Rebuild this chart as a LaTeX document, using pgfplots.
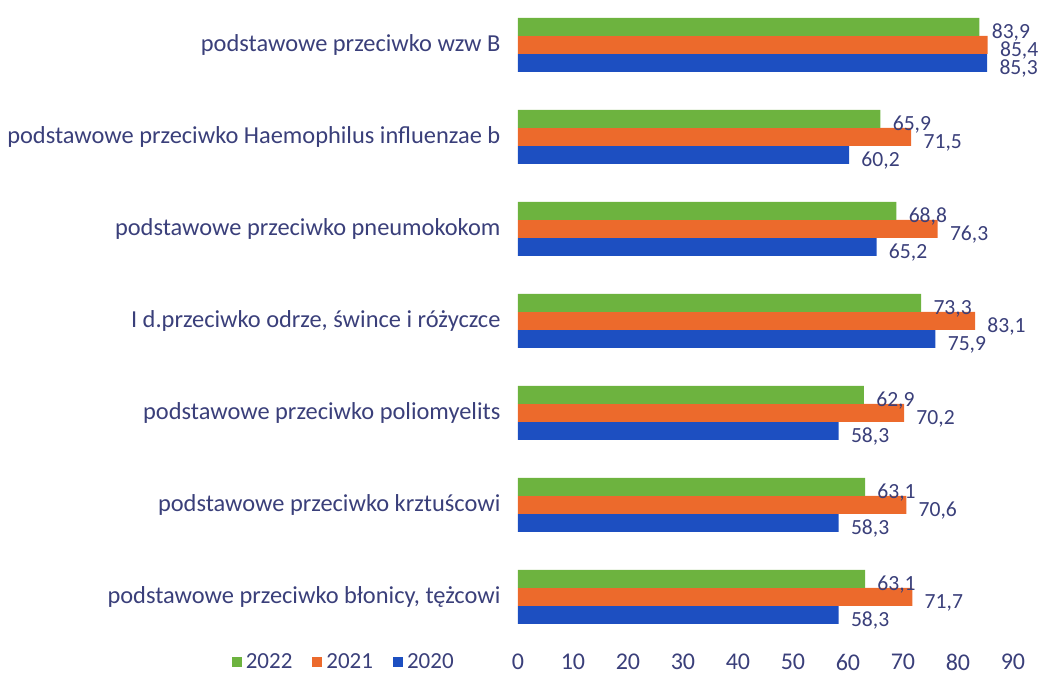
\documentclass[border=0pt]{standalone}
\usepackage{pgfplots}
\pgfplotsset{compat=1.18}
\usepackage{fontspec}
\setmainfont{Carlito}
\definecolor{cgreen}{HTML}{6DB33F}
\definecolor{corange}{HTML}{EC6A2C}
\definecolor{cblue}{HTML}{1D4FC1}
\definecolor{navy}{HTML}{3A3F7A}
\begin{document}
\begin{tikzpicture}
\begin{axis}[
  at={(0,0)}, anchor=south west,
  scale only axis, width=247.5pt, height=322pt,
  xbar=0pt, bar width=9pt,
  xmin=0, xmax=90, ymin=-0.5, ymax=6.5,
  axis line style={draw=none}, tick style={draw=none},
  xtick={0,10,...,90},
  ytick={0,1,2,3,4,5,6},
  yticklabels={podstawowe przeciwko błonicy{,} tężcowi,
    podstawowe przeciwko krztuścowi,
    podstawowe przeciwko poliomyelits,
    I d.przeciwko odrze{,} śwince i różyczce,
    podstawowe przeciwko pneumokokom,
    podstawowe przeciwko Haemophilus influenzae b,
    podstawowe przeciwko wzw B},
  yticklabel style={font=\fontsize{12.2}{14}\selectfont, text=navy, xshift=-1pt},
  xticklabel style={font=\fontsize{12}{14}\selectfont, text=navy, yshift=-2pt},
  /pgf/number format/assume math mode=true,
  clip=false,
  nodes near coords,
  nodes near coords style={font=\fontsize{10.8}{12}\selectfont, text=navy, anchor=west,
    inner xsep=1pt, inner ysep=0pt, xshift=5pt, yshift=-3pt,
    /pgf/number format/.cd, fixed, fixed zerofill, precision=1, use comma},
  point meta=x,
  legend columns=3, reverse legend,
  legend style={draw=none, fill=none, at={(-0.35,-0.03)}, anchor=center,
    font=\fontsize{11.5}{13}\selectfont, text=navy,
    /tikz/every even column/.append style={column sep=8pt}},
  legend image code/.code={\fill[#1] (0pt,-2.5pt) rectangle (5pt,2.5pt);},
]
\addplot[fill=cblue, draw=none] coordinates {(58.3,0) (58.3,1) (58.3,2) (75.9,3) (65.2,4) (60.2,5) (85.3,6)};
\addplot[fill=corange, draw=none] coordinates {(71.7,0) (70.6,1) (70.2,2) (83.1,3) (76.3,4) (71.5,5) (85.4,6)};
\addplot[fill=cgreen, draw=none] coordinates {(63.1,0) (63.1,1) (62.9,2) (73.3,3) (68.8,4) (65.9,5) (83.9,6)};
\legend{2020,2021,2022}
\end{axis}
\pgfresetboundingbox
\useasboundingbox (-259pt,-18pt) rectangle (266pt,321.5pt);
\end{tikzpicture}
\end{document}
